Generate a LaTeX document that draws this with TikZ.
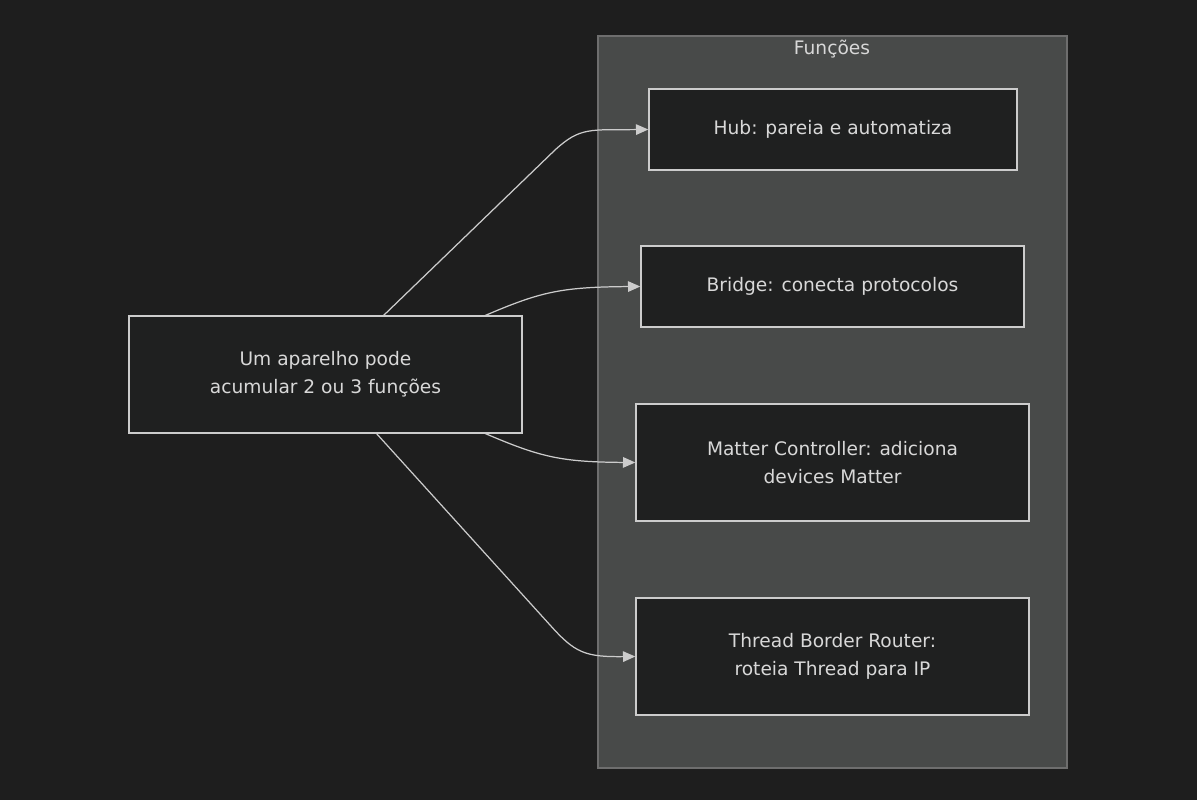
\documentclass[tikz,border=0pt]{standalone}
\usepackage{fontspec}
\setmainfont{DejaVu Sans}
\usetikzlibrary{arrows.meta}
\definecolor{bg}{HTML}{1E1E1E}
\definecolor{clfill}{HTML}{484A49}
\definecolor{clline}{HTML}{6E6E6E}
\definecolor{nfill}{HTML}{1F2020}
\definecolor{nline}{HTML}{CCCCCC}
\definecolor{txt}{HTML}{D8D8D8}
\begin{document}
\begin{tikzpicture}[x=0.02cm,y=-0.02cm,
  box/.style={draw=nline,fill=nfill,line width=0.8pt,text=txt,align=center,font=\fontsize{10.6}{16}\selectfont},
  edge/.style={draw=nline,line width=0.7pt,-{Triangle[length=7pt,width=6pt]}}]
\fill[bg] (0,0) rectangle (1197,800);
\useasboundingbox (0,0) rectangle (1197,800);
\draw[fill=clfill,draw=clline,line width=0.6pt] (598,36) rectangle (1067,768);
\node[text=txt,font=\fontsize{10.6}{14}\selectfont] (title) at (832,49) {Funções};
\node[box,minimum width=368*0.02cm,minimum height=81*0.02cm] (hub) at (833,129.5) {Hub: pareia e automatiza};
\node[box,minimum width=383*0.02cm,minimum height=81*0.02cm] (bridge) at (832.5,286.5) {Bridge: conecta protocolos};
\node[box,minimum width=393*0.02cm,minimum height=117*0.02cm] (matter) at (832.5,462.5) {Matter Controller: adiciona\\devices Matter};
\node[box,minimum width=393*0.02cm,minimum height=117*0.02cm] (thread) at (832.5,656.5) {Thread Border Router:\\roteia Thread para IP};
\node[box,minimum width=393*0.02cm,minimum height=117*0.02cm] (src) at (325.5,374.5) {Um aparelho pode\\acumular 2 ou 3 funções};
\coordinate (s1) at (383,316);
\coordinate (s2) at (484,316);
\coordinate (s3) at (484,433);
\coordinate (s4) at (376,433);
\draw[edge] (s1) -- (555,150) .. controls (580,127) and (590,130) .. (hub.west);
\draw[edge] (s2) .. controls (540,292) and (560,287) .. (bridge.west);
\draw[edge] (s3) .. controls (540,457) and (560,462) .. (matter.west);
\draw[edge] (s4) -- (550,625) .. controls (575,653) and (585,657) .. (thread.west);
\end{tikzpicture}
\end{document}
